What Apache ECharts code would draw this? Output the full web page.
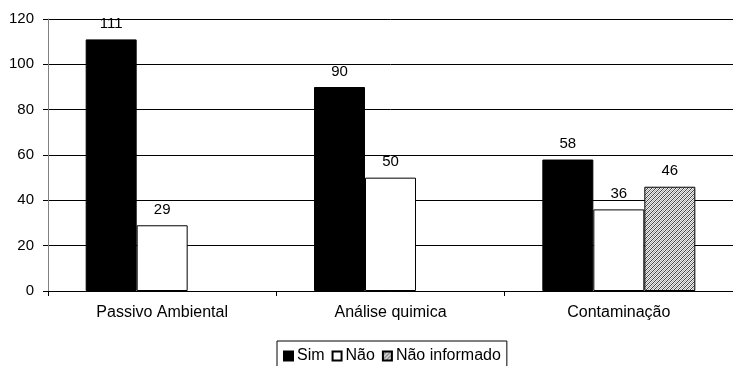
<!DOCTYPE html>
<html>
<head>
<meta charset="utf-8">
<script src="https://cdn.jsdelivr.net/npm/echarts@6/dist/echarts.min.js"></script>
<style>
  html, body { margin: 0; padding: 0; background: #fff; }
  #chart { width: 733px; height: 366px; }
</style>
</head>
<body>
<div id="chart"></div>
<script>
// Categories and counts per answer
const categories = ['Passivo Ambiental', 'Análise quimica', 'Contaminação'];
const simValues = [111, 90, 58];
const naoValues = [29, 50, 36];
const naoInformadoValues = [null, null, 46];
const seriesNames = ['Sim', 'Não', 'Não informado'];

// Fine diagonal hatch used for the "Não informado" bars
function makeHatch() {
  const c = document.createElement('canvas');
  c.width = 4; c.height = 4;
  const ctx = c.getContext('2d');
  ctx.fillStyle = '#eeeeee';
  ctx.fillRect(0, 0, 4, 4);
  ctx.fillStyle = '#444444';
  for (let i = 0; i < 4; i++) {
    ctx.fillRect(i, 3 - i, 1, 1);
  }
  ctx.fillStyle = '#aaaaaa';
  for (let i = 0; i < 4; i++) {
    ctx.fillRect(i, (5 - i) % 4, 1, 1);
  }
  return c;
}
const hatch = { image: makeHatch(), repeat: 'repeat' };

const font = 'Liberation Sans, Arial, sans-serif';
const labelStyle = {
  show: true,
  position: 'top',
  distance: 8,
  color: '#000',
  fontFamily: font,
  fontSize: 15
};

const chart = echarts.init(document.getElementById('chart'), null, { renderer: 'canvas' });
chart.setOption({
  animation: false,
  backgroundColor: '#fff',
  grid: { left: 48, right: -5, top: 19, bottom: 75, containLabel: false },
  legend: {
    data: seriesNames,
    left: 277,
    top: 341,
    icon: 'rect',
    itemWidth: 9,
    itemHeight: 9,
    itemGap: 7,
    borderColor: '#000',
    borderWidth: 1,
    borderRadius: 0,
    padding: [7, 6, 8, 6],
    textStyle: { fontFamily: font, fontSize: 16, color: '#000', padding: [0, 0, 0, -1] }
  },
  xAxis: {
    type: 'category',
    data: categories,
    axisLine: { lineStyle: { color: '#000', width: 1 } },
    axisTick: { show: true, length: 5, lineStyle: { color: '#000' } },
    axisLabel: { color: '#000', fontFamily: font, fontSize: 16, margin: 14 }
  },
  yAxis: {
    type: 'value',
    min: 0,
    max: 120,
    interval: 20,
    axisLine: { show: true, lineStyle: { color: '#808080', width: 1 } },
    axisTick: { show: true, length: 5, lineStyle: { color: '#000' } },
    axisLabel: { color: '#000', fontFamily: font, fontSize: 15, margin: 14 },
    splitLine: { show: true, lineStyle: { color: '#000', width: 1 } }
  },
  series: [
    {
      name: seriesNames[0],
      type: 'bar',
      data: simValues,
      barGap: '0%',
      barCategoryGap: '33%',
      itemStyle: { color: '#000', borderColor: '#000', borderWidth: 1 },
      label: labelStyle
    },
    {
      name: seriesNames[1],
      type: 'bar',
      data: naoValues,
      itemStyle: { color: '#fff', borderColor: '#000', borderWidth: 1 },
      label: labelStyle
    },
    {
      name: seriesNames[2],
      type: 'bar',
      data: naoInformadoValues,
      itemStyle: { color: hatch, borderColor: '#000', borderWidth: 1 },
      label: labelStyle
    }
  ]
});
</script>
</body>
</html>
